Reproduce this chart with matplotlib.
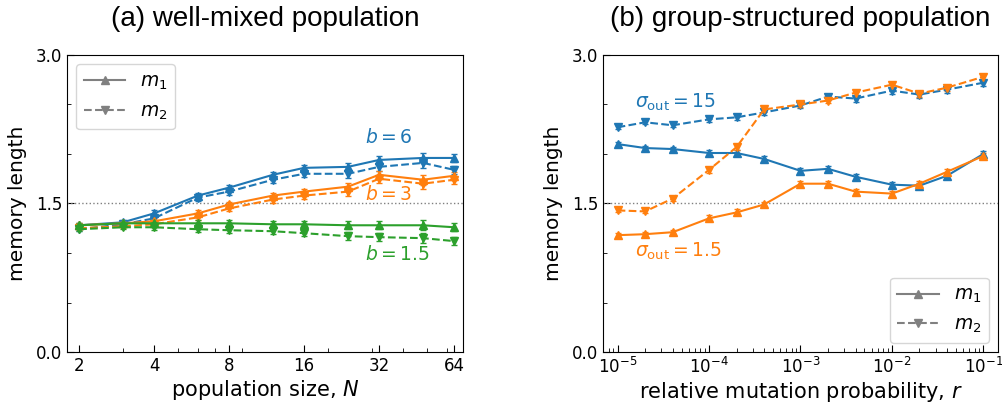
import numpy as np
import matplotlib
matplotlib.use("Agg")
import matplotlib.pyplot as plt
from matplotlib.ticker import FixedLocator, ScalarFormatter, MultipleLocator, NullFormatter
from matplotlib.lines import Line2D

# (a) well-mixed population
N = [2, 3, 4, 6, 8, 12, 16, 24, 32, 48, 64]
b6_m1 = [1.28, 1.31, 1.40, 1.58, 1.66, 1.79, 1.86, 1.87, 1.94, 1.96, 1.96]
b6_m2 = [1.24, 1.29, 1.35, 1.56, 1.62, 1.74, 1.80, 1.80, 1.87, 1.91, 1.84]
b3_m1 = [1.28, 1.30, 1.32, 1.40, 1.49, 1.58, 1.62, 1.67, 1.79, 1.74, 1.78]
b3_m2 = [1.25, 1.27, 1.29, 1.36, 1.45, 1.54, 1.58, 1.62, 1.75, 1.70, 1.74]
b15_m1 = [1.28, 1.30, 1.30, 1.30, 1.30, 1.29, 1.29, 1.28, 1.28, 1.28, 1.26]
b15_m2 = [1.24, 1.26, 1.26, 1.24, 1.23, 1.22, 1.20, 1.17, 1.16, 1.15, 1.12]
err_a = [0.02, 0.02, 0.03, 0.03, 0.03, 0.03, 0.03, 0.04, 0.04, 0.05, 0.04]

# (b) group-structured population
r = [1e-5, 2e-5, 4e-5, 1e-4, 2e-4, 4e-4, 1e-3, 2e-3, 4e-3, 1e-2, 2e-2, 4e-2, 1e-1]
s15_m1 = [2.10, 2.06, 2.05, 2.01, 2.01, 1.95, 1.83, 1.85, 1.77, 1.69, 1.68, 1.78, 2.00]
s15_m2 = [2.27, 2.32, 2.29, 2.35, 2.37, 2.42, 2.49, 2.58, 2.56, 2.64, 2.60, 2.65, 2.72]
s1_m1 = [1.18, 1.19, 1.21, 1.35, 1.41, 1.49, 1.70, 1.70, 1.62, 1.60, 1.70, 1.82, 1.98]
s1_m2 = [1.43, 1.42, 1.55, 1.84, 2.07, 2.45, 2.50, 2.54, 2.62, 2.70, 2.61, 2.67, 2.78]
err_b = [0.02, 0.02, 0.02, 0.03, 0.03, 0.03, 0.03, 0.03, 0.03, 0.03, 0.03, 0.03, 0.03]

blue, orange, green = "tab:blue", "tab:orange", "tab:green"

fig = plt.figure(figsize=(10.02, 4.04), dpi=100)
ax1 = fig.add_axes([0.0669, 0.1287, 0.3952, 0.7352])
ax2 = fig.add_axes([0.6018, 0.1287, 0.3942, 0.7352])


def series(ax, x, y, err, color, ls, marker):
    ax.errorbar(x, y, yerr=err, color=color, ls=ls, marker=marker, ms=6,
                lw=1.5, capsize=2.5, elinewidth=1.2)


for ax in (ax1, ax2):
    ax.axhline(1.5, color="gray", ls=":", lw=1)
    ax.set_ylim(0, 3.0)
    ax.set_yticks([0, 1.5, 3.0])
    ax.yaxis.set_minor_locator(MultipleLocator(0.5))
    ax.tick_params(which="both", direction="in", labelsize=12)
    ax.tick_params(which="major", length=5)
    ax.tick_params(which="minor", length=3)
    ax.set_ylabel("memory length", fontsize=14.5, labelpad=6)

series(ax1, N, b6_m1, err_a, blue, "-", "^")
series(ax1, N, b6_m2, err_a, blue, "--", "v")
series(ax1, N, b3_m1, err_a, orange, "-", "^")
series(ax1, N, b3_m2, err_a, orange, "--", "v")
series(ax1, N, b15_m1, err_a, green, "-", "^")
series(ax1, N, b15_m2, err_a, green, "--", "v")

ax1.set_xscale("log")
ax1.set_xlim(1.79, 69.5)
ax1.xaxis.set_major_locator(FixedLocator([2, 4, 8, 16, 32, 64]))
ax1.xaxis.set_major_formatter(ScalarFormatter())
ax1.xaxis.set_minor_formatter(NullFormatter())
ax1.set_xlabel("population size, $N$", fontsize=15, labelpad=2)
ax1.set_title("(a) well-mixed population", fontsize=20, family="Liberation Sans", pad=21)
ax1.text(28, 2.17, "$b = 6$", color=blue, fontsize=13.5, va="center")
ax1.text(28, 1.59, "$b = 3$", color=orange, fontsize=13.5, va="center")
ax1.text(28, 0.98, "$b = 1.5$", color=green, fontsize=13.5, va="center")

series(ax2, r, s15_m1, err_b, blue, "-", "^")
series(ax2, r, s15_m2, err_b, blue, "--", "v")
series(ax2, r, s1_m1, err_b, orange, "-", "^")
series(ax2, r, s1_m2, err_b, orange, "--", "v")

ax2.set_xscale("log")
ax2.set_xlim(10 ** -5.16, 10 ** -0.84)
ax2.set_xlabel("relative mutation probability, $r$", fontsize=15, labelpad=2)
ax2.set_title("(b) group-structured population", fontsize=20, family="Liberation Sans", pad=21)
ax2.text(1.55e-5, 2.52, r"$\sigma_{\rm out} = 15$", color=blue, fontsize=13.5, va="center")
ax2.text(1.55e-5, 1.02, r"$\sigma_{\rm out} = 1.5$", color=orange, fontsize=13.5, va="center")

handles = [Line2D([], [], color="gray", ls="-", marker="^", ms=6, lw=1.5),
           Line2D([], [], color="gray", ls="--", marker="v", ms=6, lw=1.5)]
labels = ["$m_1$", "$m_2$"]
ax1.legend(handles, labels, loc="upper left", fontsize=13.5, handlelength=2.2)
ax2.legend(handles, labels, loc="lower right", fontsize=13.5, handlelength=2.2)

fig.savefig("out.png", dpi=100)
